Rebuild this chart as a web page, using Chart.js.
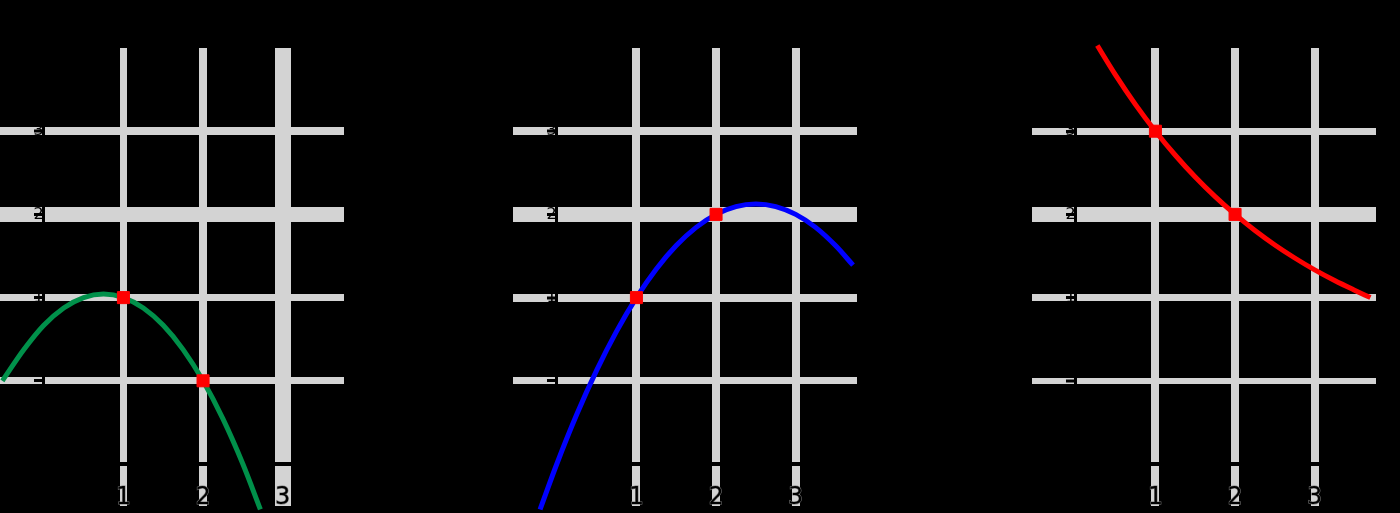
<!DOCTYPE html>
<html lang="en">
<head>
<meta charset="UTF-8">
<title>Three function graphs</title>
<script src="https://cdn.jsdelivr.net/npm/chart.js@4.4.0/dist/chart.umd.min.js"></script>
<style>
  html, body { margin: 0; background: #000; }
  body { width: 1400px; height: 513px; position: relative; overflow: hidden; }
  canvas { position: absolute; top: 0; }
</style>
</head>
<body>
<canvas id="c1" width="344" height="513" style="left:0"></canvas>
<canvas id="c2" width="344" height="513" style="left:513px"></canvas>
<canvas id="c3" width="344" height="513" style="left:1032px"></canvas>
<script>
// tick labels shown on the axes
const xTicks = [1, 2, 3];
const yTicks = [1, 2, 3];

// left graph - green parabola
const greenX = [-0.52, -0.25, 0, 0.25, 0.5, 0.75, 1, 1.25, 1.5, 1.75, 2, 2.25, 2.5, 2.72];
const greenY = [0, 0.375, 0.667, 0.875, 1.0, 1.042, 1, 0.875, 0.667, 0.375, 0, -0.458, -1.0, -1.546];
const greenDotX = [1, 2];
const greenDotY = [1, 0];

// middle graph - blue parabola
const blueX = [-0.21, 0, 0.25, 0.5, 0.75, 1, 1.25, 1.5, 1.75, 2, 2.25, 2.5, 2.75, 3, 3.25, 3.5, 3.72];
const blueY = [-1.547, -1, -0.406, 0.125, 0.594, 1, 1.344, 1.625, 1.844, 2, 2.094, 2.125, 2.094, 2.0, 1.844, 1.625, 1.39];
const blueDotX = [1, 2];
const blueDotY = [1, 2];

// right graph - red decreasing curve
const redX = [0.27, 0.5, 0.75, 1, 1.25, 1.5, 1.75, 2, 2.25, 2.5, 2.75, 3, 3.25, 3.5, 3.7];
const redY = [4.03, 3.674, 3.32, 3, 2.711, 2.449, 2.213, 2, 1.807, 1.633, 1.476, 1.333, 1.205, 1.089, 1.0];
const redDotX = [1, 2];
const redDotY = [3, 2];

const GRID = '#d3d3d3';

function pts(xs, ys) {
  return xs.map((x, i) => ({ x: x, y: ys[i] }));
}

function makePanel(id, curveX, curveY, dotX, dotY, color, vWidths, hWidths) {
  return new Chart(document.getElementById(id), {
    type: 'scatter',
    data: {
      datasets: [
        { data: pts(dotX, dotY), pointStyle: 'rect', pointRadius: 8.5, backgroundColor: '#ff0000',
          borderColor: '#ff0000', borderWidth: 1, showLine: false, clip: false, order: 0 },
        { data: pts(curveX, curveY), showLine: true, borderColor: color, borderWidth: 5, pointRadius: 0,
          cubicInterpolationMode: 'monotone', fill: false, clip: false, order: 1 }
      ]
    },
    options: {
      responsive: false,
      animation: false,
      events: [],
      layout: { autoPadding: false, padding: { top: 48, left: 0, right: 0, bottom: 0 } },
      plugins: { legend: { display: false }, tooltip: { enabled: false } },
      scales: {
        x: {
          type: 'linear', min: -0.55, max: 3.77, position: 'bottom',
          afterFit: s => { s.height = 49; },
          ticks: {
            stepSize: 1, includeBounds: false, color: '#000', padding: -23,
            textStrokeColor: '#7a7a7a', textStrokeWidth: 1,
            font: { family: 'DejaVu Sans', size: 24 },
            callback: v => xTicks.includes(v) ? String(v) : ''
          },
          grid: {
            color: GRID,
            lineWidth: c => (c.tick && vWidths[c.tick.value]) || 0,
            tickLength: 42
          },
          border: { color: '#000', width: 4 }
        },
        y: {
          type: 'linear', min: -1, max: 4, position: { x: 0 },
          ticks: {
            stepSize: 1, includeBounds: false, color: '#000', padding: 4,
            font: { family: 'DejaVu Sans', size: 16 },
            callback: v => yTicks.includes(v) ? String(v) : ''
          },
          grid: {
            color: GRID,
            lineWidth: c => (c.tick && hWidths[c.tick.value]) || 0,
            tickColor: '#000', tickWidth: 3, tickLength: 8
          },
          border: { color: '#000', width: 3 }
        }
      }
    }
  });
}

makePanel('c1', greenX, greenY, greenDotX, greenDotY, '#00904a',
  { 1: 7, 2: 8, 3: 16 }, { 0: 7, 1: 7, 2: 15, 3: 8 });
makePanel('c2', blueX, blueY, blueDotX, blueDotY, '#0000ff',
  { 1: 8, 2: 8, 3: 8 }, { 0: 7, 1: 8, 2: 15, 3: 8 });
makePanel('c3', redX, redY, redDotX, redDotY, '#ff0000',
  { 1: 8, 2: 8, 3: 8 }, { 0: 6, 1: 7, 2: 15, 3: 7 });
</script>
</body>
</html>
